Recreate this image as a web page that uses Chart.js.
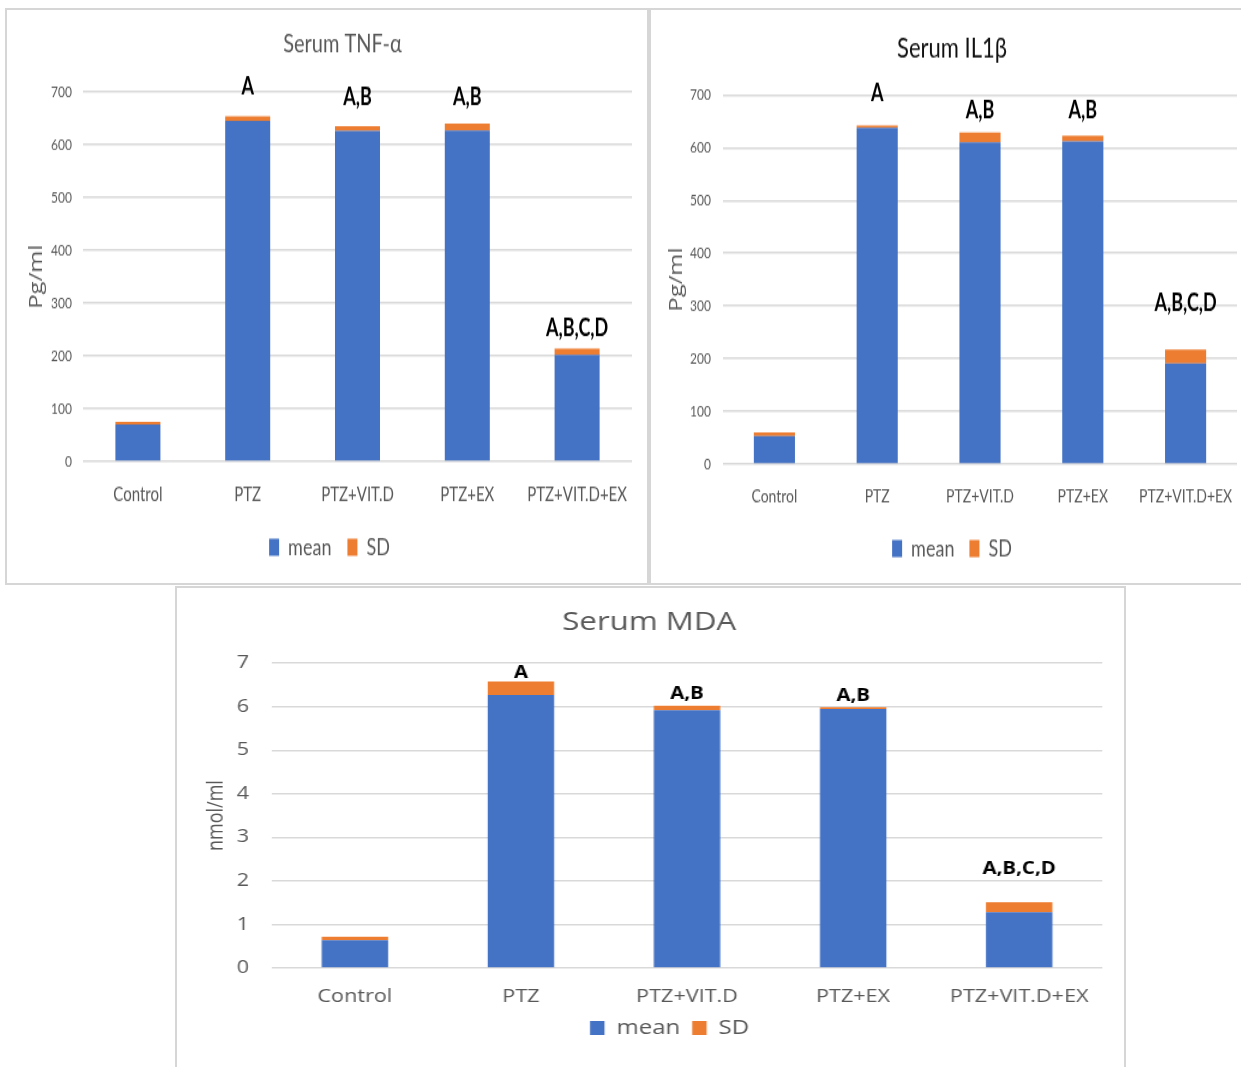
<!DOCTYPE html>
<html>
<head>
<meta charset="utf-8">
<script src="https://cdn.jsdelivr.net/npm/chart.js@4/dist/chart.umd.min.js"></script>
<style>
  html, body { margin: 0; padding: 0; background: #fff; }
  body { width: 1241px; height: 1067px; position: relative; overflow: hidden; }
  .panel { position: absolute; box-sizing: border-box; border: 2px solid #d6d6d6; background: #fff; overflow: hidden; }
  .panel canvas { position: absolute; left: 0; top: 0; transform-origin: 0 0; }
</style>
</head>
<body>
<div class="panel" style="left:5px; top:8px; width:644px; height:577px;">
  <canvas id="tnfChart" width="640" height="434" style="transform:scaleY(1.32)"></canvas>
</div>
<div class="panel" style="left:649px; top:8px; width:600px; height:577px;">
  <canvas id="il1bChart" width="592" height="434" style="transform:scaleY(1.32)"></canvas>
</div>
<div class="panel" style="left:175px; top:586px; width:951px; height:490px;">
  <canvas id="mdaChart" width="789" height="481" style="transform:scaleX(1.2)"></canvas>
</div>
<script>
// categories and values
const categories = ["Control", "PTZ", "PTZ+VIT.D", "PTZ+EX", "PTZ+VIT.D+EX"];
const sigLetters = ["", "A", "A,B", "A,B", "A,B,C,D"];

const tnfMean = [70, 645, 626, 627, 202];
const tnfSD = [5, 9, 9, 13, 12];
const tnfLetterY = [null, 709, 689, 689, 253];

const il1bMean = [53, 638, 610, 612, 191];
const il1bSD = [7, 4, 19, 11, 26];
const il1bLetterY = [null, 702, 670, 670, 306];

const mdaMean = [0.64, 6.27, 5.92, 5.95, 1.28];
const mdaSD = [0.08, 0.31, 0.10, 0.04, 0.23];
const mdaLetterY = [null, 6.77, 6.29, 6.24, 2.27];

const pgTicks = [0, 100, 200, 300, 400, 500, 600, 700];
const mdaTicks = [0, 1, 2, 3, 4, 5, 6, 7];

const BLUE = "#4472C4";
const ORANGE = "#ED7D31";
const GREY = "#595959";
const LATO = "Lato, 'Open Sans', sans-serif";
const WIDE = "'Open Sans', 'Noto Sans', sans-serif";

// draws the A / A,B / ... letters above the bars
const letterPlugin = {
    id: "sigLetters",
    afterDatasetsDraw(chart, args, opts) {
        const ctx = chart.ctx;
        const x = chart.scales.x, y = chart.scales.y;
        ctx.save();
        ctx.fillStyle = "#000";
        ctx.font = opts.font;
        ctx.textAlign = "center";
        ctx.textBaseline = "middle";
        opts.pos.forEach((v, i) => {
            if (v == null || !sigLetters[i]) return;
            ctx.fillText(sigLetters[i], x.getPixelForValue(i), y.getPixelForValue(v));
        });
        ctx.restore();
    }
};

// title / legend are not centred on the canvas in the figure, nudge them sideways
const shiftPlugin = {
    id: "boxShift",
    afterLayout(chart, args, opts) {
        if (chart.titleBlock) { chart.titleBlock.left += opts.title; chart.titleBlock.right += opts.title; }
        if (chart.legend) { chart.legend.left += opts.legend; chart.legend.right += opts.legend; }
    }
};

function makeChart(id, s) {
    const ctx = document.getElementById(id).getContext("2d");
    return new Chart(ctx, {
        type: "bar",
        data: {
            labels: categories,
            datasets: [
                { label: "mean", data: s.mean, backgroundColor: BLUE, barPercentage: s.barPct, categoryPercentage: 1 },
                { label: "SD", data: s.sd, backgroundColor: ORANGE, barPercentage: s.barPct, categoryPercentage: 1 }
            ]
        },
        plugins: [letterPlugin, shiftPlugin],
        options: {
            responsive: false,
            animation: false,
            layout: { padding: s.pad },
            plugins: {
                title: {
                    display: true,
                    text: s.title,
                    color: s.titleColor,
                    font: { family: s.titleFamily, size: s.titleSize, weight: "normal" },
                    padding: s.titlePad
                },
                legend: {
                    position: "bottom",
                    labels: {
                        color: GREY,
                        font: { family: s.family, size: s.legendSize },
                        boxWidth: s.boxW,
                        boxHeight: s.boxH,
                        padding: s.legendPad
                    }
                },
                tooltip: { enabled: false },
                sigLetters: { pos: s.letterY, font: s.letterFont },
                boxShift: s.shift
            },
            scales: {
                x: {
                    stacked: true,
                    grid: { display: false },
                    border: { display: false },
                    ticks: { color: GREY, font: { family: s.family, size: s.xSize }, padding: s.xPad, maxRotation: 0, autoSkip: false },
                    afterFit: (scale) => { scale.height = s.xH; }
                },
                y: {
                    stacked: true,
                    min: 0,
                    max: s.ticks[s.ticks.length - 1],
                    afterBuildTicks: (scale) => { scale.ticks = s.ticks.map(v => ({ value: v })); },
                    grid: { color: "#d9d9d9", lineWidth: 1.5, drawTicks: false },
                    border: { display: false },
                    ticks: { color: GREY, font: { family: s.family, size: s.ySize }, padding: s.yPad },
                    title: {
                        display: true,
                        text: s.yTitle,
                        color: GREY,
                        font: { family: WIDE, size: s.yTitleSize },
                        padding: { top: s.yTitlePad, bottom: 0 }
                    },
                    afterFit: (scale) => { scale.width = s.yW; }
                }
            }
        }
    });
}

// top charts are drawn squeezed and stretched 1.32x vertically (as in the figure)
makeChart("tnfChart", {
    mean: tnfMean, sd: tnfSD, letterY: tnfLetterY, ticks: pgTicks,
    title: "Serum TNF-\u03b1", titleColor: GREY, titleFamily: LATO, titleSize: 20,
    titlePad: { top: 14, bottom: 24 },
    family: LATO, legendSize: 18, boxW: 10, boxH: 13, legendPad: 16,
    xSize: 15, xPad: 8, xH: 40, ySize: 12, yPad: 11, yW: 76,
    yTitle: "Pg/ml", yTitleSize: 18, yTitlePad: 19,
    barPct: 0.41, pad: { left: 0, right: 15, top: 0, bottom: 8 },
    letterFont: "bold 18px " + LATO,
    shift: { title: 23, legend: 10 }
});

makeChart("il1bChart", {
    mean: il1bMean, sd: il1bSD, letterY: il1bLetterY, ticks: pgTicks,
    title: "Serum IL1\u03b2", titleColor: "#111", titleFamily: LATO, titleSize: 22,
    titlePad: { top: 16, bottom: 22 },
    family: LATO, legendSize: 18, boxW: 10, boxH: 13, legendPad: 15,
    xSize: 14, xPad: 8, xH: 40, ySize: 12, yPad: 12, yW: 72,
    yTitle: "Pg/ml", yTitleSize: 18, yTitlePad: 15,
    barPct: 0.40, pad: { left: 0, right: 6, top: 0, bottom: 7 },
    letterFont: "bold 18px " + LATO,
    shift: { title: 8, legend: 8 }
});

// bottom chart is stretched 1.2x horizontally
makeChart("mdaChart", {
    mean: mdaMean, sd: mdaSD, letterY: mdaLetterY, ticks: mdaTicks,
    title: "Serum MDA", titleColor: GREY, titleFamily: WIDE, titleSize: 26,
    titlePad: { top: 19, bottom: 25 },
    family: WIDE, legendSize: 20, boxW: 12, boxH: 14, legendPad: 10,
    xSize: 18, xPad: 10, xH: 40, ySize: 18, yPad: 19, yW: 79,
    yTitle: "nmol/ml", yTitleSize: 18, yTitlePad: 22,
    barPct: 0.40, pad: { left: 0, right: 18, top: 0, bottom: 21 },
    letterFont: "bold 17px " + WIDE,
    shift: { title: 8, legend: 25 }
});
</script>
</body>
</html>
